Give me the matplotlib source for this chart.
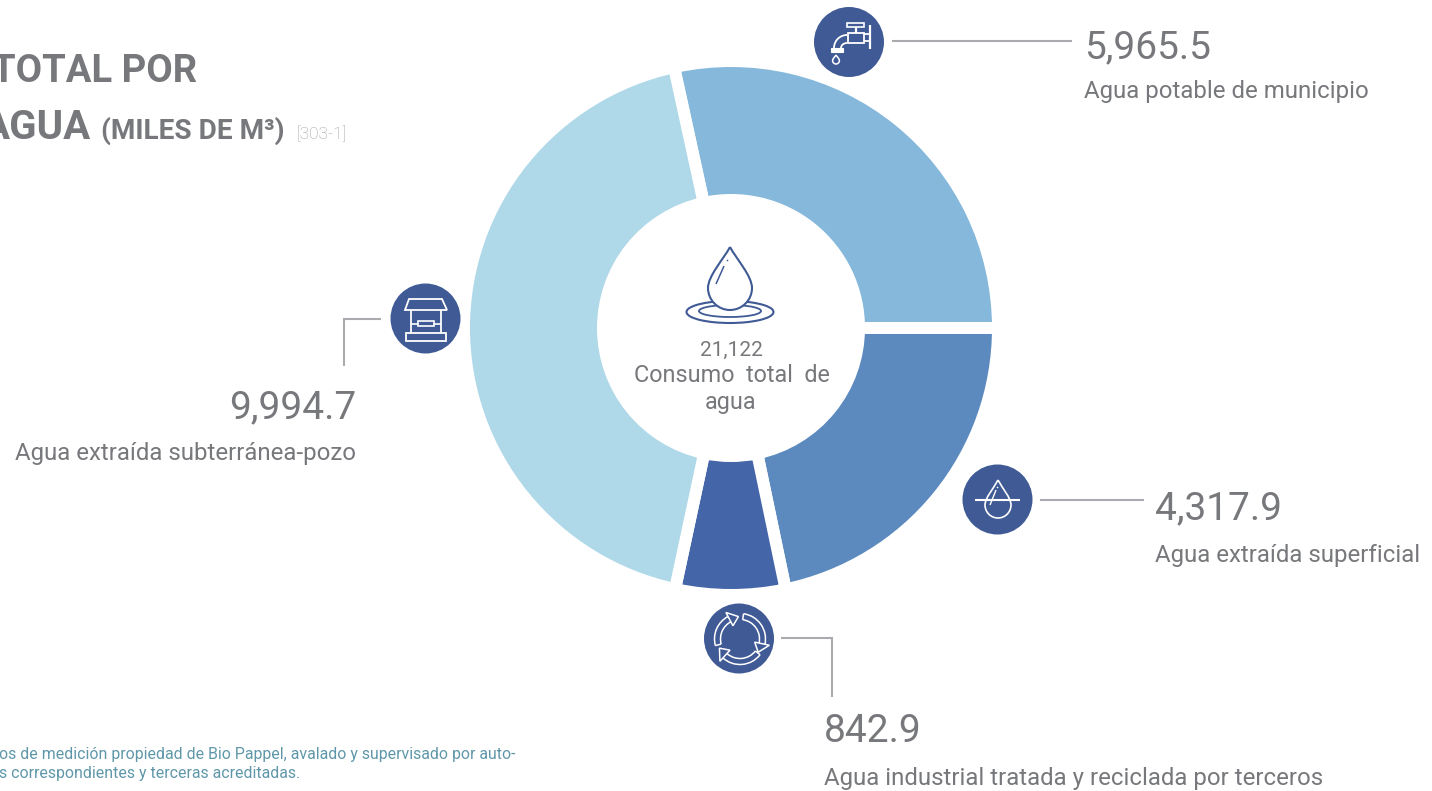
import numpy as np
import matplotlib
matplotlib.use("Agg")
import matplotlib.pyplot as plt
from matplotlib.patches import Circle, PathPatch, Arc, Rectangle, Polygon
from matplotlib.path import Path

# Labelled values
categories = ["Agua potable de municipio", "Agua extraída superficial",
              "Agua industrial tratada y reciclada por terceros",
              "Agua extraída subterránea-pozo"]
value_labels = ["5,965.5", "4,317.9", "842.9", "9,994.7"]
total_label = "21,122"
# Sweep of each wedge (share of the ring, %)
drawn_share = [28.42, 21.72, 6.64, 43.22]
colors = ["#85B8DB", "#5C8ABF", "#4465A8", "#AFD9E9"]

GREY = "#77787B"
ICON = "#3F5A95"
LINE = "#A9ABAE"
TEAL = "#5F97A9"
FONT = "Roboto"
W, H = 1432, 791

def Y(y):
    return H - y

fig = plt.figure(figsize=(W/100, H/100), dpi=100, facecolor="white")
ax = fig.add_axes([0, 0, 1, 1])
plt.rcParams["font.family"] = FONT

start = drawn_share[0] * 3.6
ax.pie(drawn_share, colors=colors, startangle=start, counterclock=False,
       center=(731, Y(328)), radius=267,
       wedgeprops=dict(width=139, edgecolor="white", linewidth=8.64))
ax.set_xlim(0, W)
ax.set_ylim(0, H)
ax.axis("off")

def T(x, y, s, size, color=GREY, ha="left", va="baseline", weight="normal", family=FONT, **kw):
    return ax.text(x, Y(y), s, fontsize=size, color=color, ha=ha, va=va,
                   fontweight=weight, family=family, **kw)

def L(xs, ys, color="white", lw=1.3, **kw):
    ax.plot(xs, [Y(v) for v in ys], color=color, lw=lw, solid_capstyle="butt",
            solid_joinstyle="miter", **kw)

def drop(cx, tip, bottom, halfw, color, lw, fill=False, z=3):
    r = halfw
    cy = bottom - r
    h = cy - tip
    verts = [(cx, tip),
             (cx - r * .3, tip + h * .3), (cx - r, cy - r * .55), (cx - r, cy),
             (cx - r, cy + r * .55), (cx - r * .55, bottom), (cx, bottom),
             (cx + r * .55, bottom), (cx + r, cy + r * .55), (cx + r, cy),
             (cx + r, cy - r * .55), (cx + r * .3, tip + h * .3), (cx, tip)]
    codes = [Path.MOVETO] + [Path.CURVE4] * 12
    ax.add_patch(PathPatch(Path([(a, Y(b)) for a, b in verts], codes),
                           facecolor="white" if fill else "none", fill=fill,
                           edgecolor=color, lw=lw, joinstyle="miter", zorder=z))

# Title
T(197, 82, "TOTAL POR", 27.5, weight="bold", ha="right")
T(91, 139, "AGUA", 29, ha="right", weight="bold")
T(101, 139, "(MILES DE M³)", 20.2, weight="bold")
T(296, 139, "[303-1]", 12.4, color="#A0A2A5", weight="light")

# Footnote
T(-1, 759, "os de medición propiedad de Bio Pappel, avalado y supervisado por auto-", 11.4, color=TEAL)
T(-1, 778, "s correspondientes y terceras acreditadas.", 11.4, color=TEAL)

# Leaders
L([892, 1072], [41, 41], LINE, 1.5)
L([1040, 1144], [500, 500], LINE, 1.5)
L([344, 344, 381], [366, 319, 319], LINE, 1.5)
L([781, 832, 832], [638, 638, 697], LINE, 1.5)

# Value labels and names
VS = 28
LS = 17.3
T(1084, 58, value_labels[0], VS)
T(1084, 98, categories[0], LS)
T(1155, 519, value_labels[1], VS)
T(1155, 562, categories[1], LS)
T(824, 742, value_labels[2], VS)
T(824, 785, categories[2], LS)
T(356, 418, value_labels[3], VS, ha="right")
T(356, 460, categories[3], LS, ha="right")

# Centre
ax.add_patch(Arc((730, Y(312)), 87, 22, theta1=123, theta2=417, color=ICON, lw=1.5, zorder=2))
ax.add_patch(Arc((730, Y(311)), 62, 12, theta1=135, theta2=405, color=ICON, lw=1.3, zorder=2))
drop(730, 247, 310, 22, ICON, 1.5, fill=True)
L([716, 724], [284, 266], ICON, 1.1, zorder=4)
L([727, 728], [261, 260], ICON, 1.1, zorder=4)
T(731, 356, total_label, 15, ha="center")
T(731.5, 382, "Consumo  total  de", 16.8, ha="center")
T(731, 409, "agua", 16.8, ha="center")

# Icon discs
for cx, cy in [(849, 42), (425.5, 318.5), (997.5, 499.5), (739, 638.5)]:
    ax.add_patch(Circle((cx, Y(cy)), 35, facecolor=ICON, edgecolor="none"))

# Faucet icon
ax.add_patch(Rectangle((847, Y(27)), 17, 4, fill=False, edgecolor="white", lw=1.2))
L([856, 856], [27, 33], lw=1.6)
ax.add_patch(Rectangle((848, Y(43)), 16, 10, fill=False, edgecolor="white", lw=1.3))
L([864, 870], [34, 34], lw=1.3); L([864, 870], [41, 41], lw=1.3)
L([870, 870], [25, 49], lw=1.6)
ax.add_patch(Arc((847, Y(48)), 26, 26, theta1=90, theta2=180, color="white", lw=1.3))
ax.add_patch(Arc((847, Y(48)), 12, 10, theta1=90, theta2=180, color="white", lw=1.3))
ax.add_patch(Rectangle((831, Y(52)), 12, 4, facecolor="white", edgecolor="white", lw=.8))
drop(836, 55, 64, 3.4, "white", 1.1)

# Well icon
ax.add_patch(Polygon([(405, Y(310)), (409, Y(299)), (442, Y(299)), (447, Y(310))],
                     fill=False, edgecolor="white", lw=1.3))
L([411, 411], [310, 333], lw=1.3); L([441, 441], [310, 333], lw=1.3)
ax.add_patch(Rectangle((418, Y(326)), 16, 5, fill=False, edgecolor="white", lw=1.2))
L([411, 418], [324, 324], lw=1.2); L([434, 441], [324, 324], lw=1.2)
ax.add_patch(Rectangle((406, Y(341)), 40, 8, fill=False, edgecolor="white", lw=1.3))

# Surface water icon
drop(998, 480, 518, 13, "white", 1.2)
L([975, 1020], [499.5, 499.5], lw=1.5)
L([990, 996], [505, 490], lw=1.0)
L([997, 998], [488, 487], lw=1.0)

# Recycle icon
cx, cy = 740, 639
for t1, t2 in [(118, 195), (-12, 82), (-132, -38)]:
    for d in (51, 39):
        ax.add_patch(Arc((cx, Y(cy)), d, d, theta1=t1, theta2=t2, color="white", lw=1.1))
    a = np.radians(t2)
    L([cx + 19.5*np.cos(a), cx + 25.5*np.cos(a)], [cy - 19.5*np.sin(a), cy - 25.5*np.sin(a)], lw=1.1)
    b = np.radians(t1)
    tip = np.radians(t1 - 24)
    pts = [(cx + 15*np.cos(b), cy - 15*np.sin(b)), (cx + 30*np.cos(b), cy - 30*np.sin(b)),
           (cx + 22.5*np.cos(tip), cy - 22.5*np.sin(tip))]
    ax.add_patch(Polygon([(p, Y(q)) for p, q in pts], facecolor=ICON, edgecolor="white", lw=1.1, zorder=4))

fig.savefig("out.png", dpi=100, facecolor="white")
